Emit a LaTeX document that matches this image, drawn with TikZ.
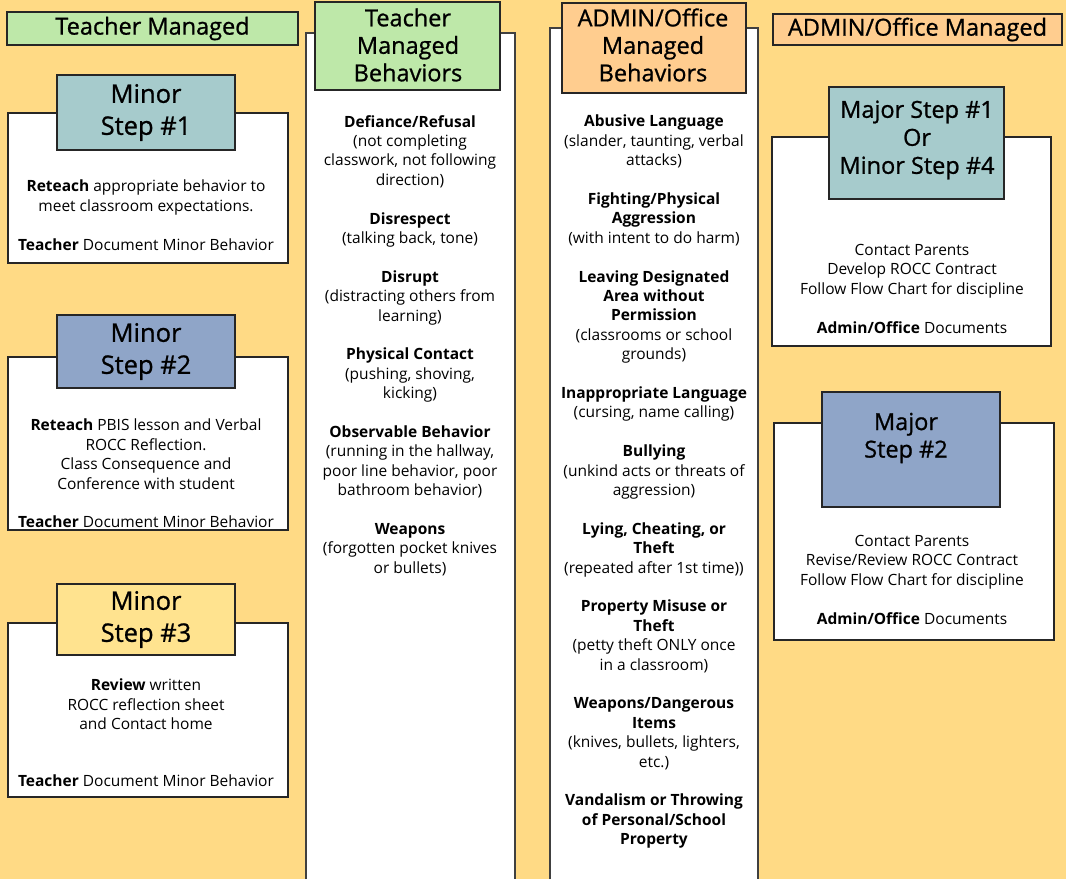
\documentclass[tikz,border=0pt]{standalone}
\usepackage{fontspec}
\setmainfont{Open Sans}
\newfontfamily\headfont[FakeBold=0.9]{Open Sans}
\definecolor{bgYellow}{HTML}{FFDA85}
\definecolor{hdrGreen}{HTML}{BEE8A9}
\definecolor{hdrOrange}{HTML}{FFCD8F}
\definecolor{stepTeal}{HTML}{A6CBCC}
\definecolor{stepBlue}{HTML}{8FA5C8}
\definecolor{stepYellow}{HTML}{FFE38F}
\tikzset{
    card/.style={draw=black!85, fill=white, line width=1.3pt},
    tab/.style={draw=black!85, line width=1.6pt},
    bodytext/.style={align=center, inner sep=0pt, font=\fontsize{15.5}{19.4}\selectfont},
    tabtext/.style={align=center, inner sep=0pt, font=\headfont\fontsize{23.5}{27.5}\selectfont},
    steptext/.style={align=center, inner sep=0pt, font=\headfont\fontsize{25.5}{32}\selectfont},
}
\begin{document}
\begin{tikzpicture}[x=1pt,y=-1pt]
        \fill[bgYellow] (0,0) rectangle (1066,879);
        \useasboundingbox (0,0) rectangle (1066,879);
        \def\gap{19.4pt}

        % left column: minor steps
        \draw[tab, fill=hdrGreen] (7,12) rectangle (298,45) node[midway, tabtext] (teacherManaged) {Teacher Managed};
        \foreach \i/\ct/\cb/\tt/\tb/\col in {1/113/263/75/150/stepTeal,2/357/530/315/388/stepBlue,3/623/797/584/655/stepYellow} {
                \draw[card] (8,\ct) rectangle (288,\cb);
                \draw[tab, fill=\col] (57,\tt) rectangle (235,\tb);
                \node[steptext] (minor\i) at (146,{(\tt+\tb)/2}) {Minor\\Step \#\i};
            }
        \node[bodytext, anchor=north] (minorBodyA) at (146,180) {\textbf{Reteach} appropriate behavior to\\meet classroom expectations.\\[\gap]\textbf{Teacher} Document Minor Behavior};
        \node[bodytext, anchor=north] (minorBodyB) at (146,419) {\textbf{Reteach} PBIS lesson and Verbal\\ROCC Reflection.\\Class Consequence and\\Conference with student\\[\gap]\textbf{Teacher} Document Minor Behavior};
        \node[bodytext, anchor=north] (minorBodyC) at (146,679) {\textbf{Review} written\\ROCC reflection sheet\\and Contact home\\[37pt]\textbf{Teacher} Document Minor Behavior};

        % teacher managed behaviors column
        \fill[white] (306,33) rectangle (515,879);
        \draw[line width=1.2pt, draw=black!75] (306,879) -- (306,33) -- (515,33) -- (515,879);
        \draw[tab, fill=hdrGreen] (315,2) rectangle (500,90);
        \node[tabtext] (teacherTab) at (408,45) {Teacher\\Managed\\Behaviors};
        \node[bodytext, anchor=north] (teacherList) at (410,115) {
            \textbf{Defiance/Refusal}\\(not completing\\classwork, not following\\direction)\\[\gap]
            \textbf{Disrespect}\\(talking back, tone)\\[\gap]
            \textbf{Disrupt}\\(distracting others from\\learning)\\[\gap]
            \textbf{Physical Contact}\\(pushing, shoving,\\kicking)\\[\gap]
            \textbf{Observable Behavior}\\(running in the hallway,\\poor line behavior, poor\\bathroom behavior)\\[\gap]
            \textbf{Weapons}\\(forgotten pocket knives\\or bullets)};

        % admin managed behaviors column
        \fill[white] (550,28) rectangle (758,879);
        \draw[line width=1.2pt, draw=black!75] (550,879) -- (550,28) -- (758,28) -- (758,879);
        \draw[tab, fill=hdrOrange] (562,3) rectangle (746,93);
        \node[tabtext] (adminTab) at (653,45) {ADMIN/Office\\Managed\\Behaviors};
        \node[bodytext, anchor=north] (adminList) at (654,115) {
            \textbf{Abusive Language}\\(slander, taunting, verbal\\attacks)\\[\gap]
            \textbf{Fighting/Physical}\\\textbf{Aggression}\\(with intent to do harm)\\[\gap]
            \textbf{Leaving Designated}\\\textbf{Area without}\\\textbf{Permission}\\(classrooms or school\\grounds)\\[\gap]
            \textbf{Inappropriate Language}\\(cursing, name calling)\\[\gap]
            \textbf{Bullying}\\(unkind acts or threats of\\aggression)\\[\gap]
            \textbf{Lying, Cheating, or}\\\textbf{Theft}\\(repeated after 1st time))\\[\gap]
            \textbf{Property Misuse or}\\\textbf{Theft}\\(petty theft ONLY once\\in a classroom)\\[\gap]
            \textbf{Weapons/Dangerous}\\\textbf{Items}\\(knives, bullets, lighters,\\etc.)\\[\gap]
            \textbf{Vandalism or Throwing}\\\textbf{of Personal/School}\\\textbf{Property}};

        % right column: major steps
        \draw[tab, fill=hdrOrange] (773,14) rectangle (1062,45) node[midway, tabtext] (adminManaged) {ADMIN/Office Managed};
        \draw[card] (772,137) rectangle (1051,346);
        \draw[tab, fill=stepTeal] (829,87) rectangle (1004,199);
        \node[tabtext, font=\headfont\fontsize{23.5}{28}\selectfont] (majorA) at (917,140) {Major Step \#1\\Or\\Minor Step \#4};
        \node[bodytext, anchor=north] (majorBodyA) at (912,244) {Contact Parents\\Develop ROCC Contract\\Follow Flow Chart for discipline\\[\gap]\textbf{Admin/Office} Documents};
        \draw[card] (774,423) rectangle (1054,640);
        \draw[tab, fill=stepBlue] (822,392) rectangle (1000,507);
        \node[tabtext] (majorB) at (906,438) {Major\\Step \#2};
        \node[bodytext, anchor=north] (majorBodyB) at (912,535) {Contact Parents\\Revise/Review ROCC Contract\\Follow Flow Chart for discipline\\[\gap]\textbf{Admin/Office} Documents};
\end{tikzpicture}
\end{document}
